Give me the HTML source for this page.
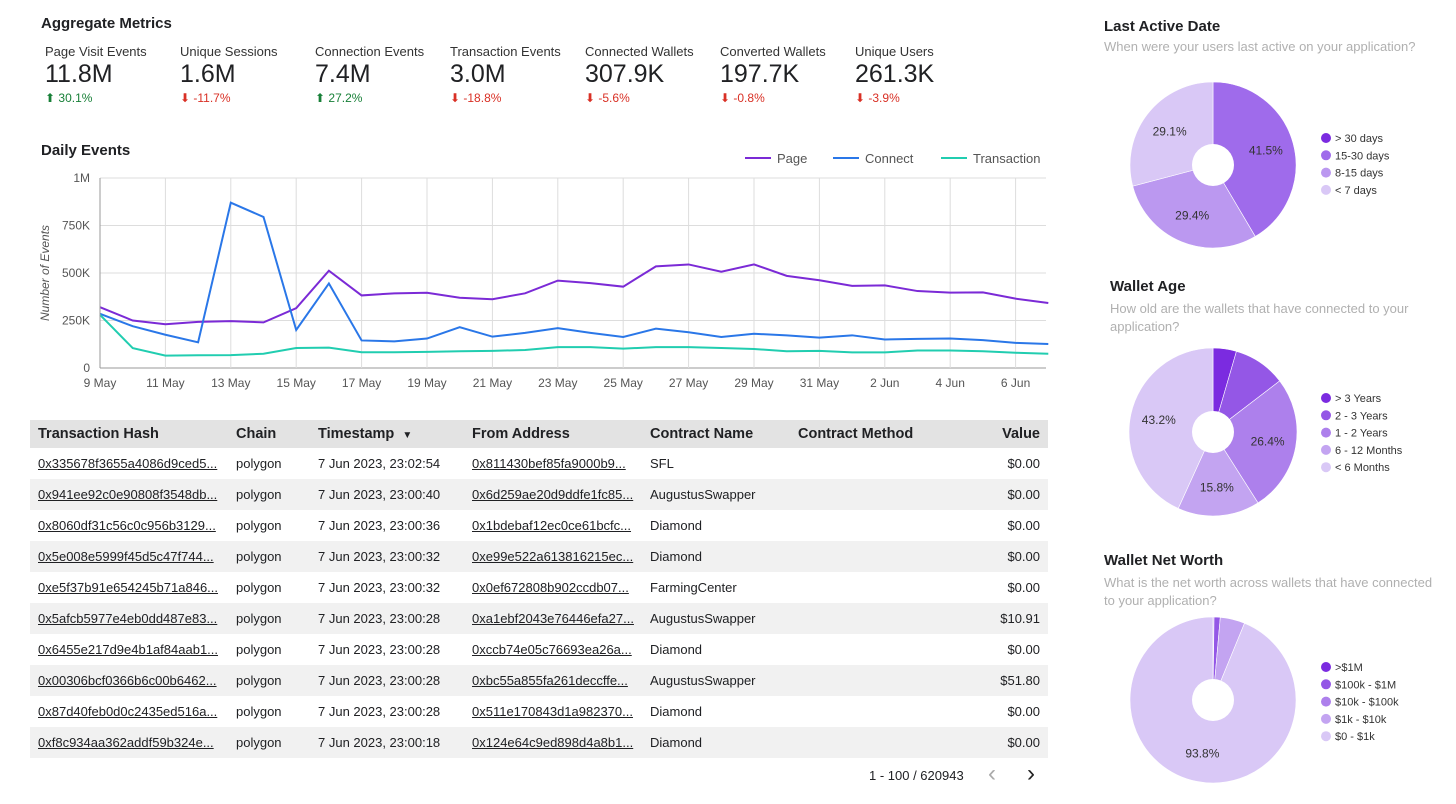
<!DOCTYPE html>
<html><head><meta charset="utf-8">
<style>
body{margin:0;width:1456px;height:804px;background:#fff;font-family:"Liberation Sans",sans-serif;color:#202124;position:relative;overflow:hidden}
.a{position:absolute}
.t{font-weight:bold;font-size:15px}
.mk{position:absolute;top:44px}
.mk .l{font-size:13px;color:#333}
.mk .v{font-size:25px;margin-top:1px}
.mk .d{font-size:12px;margin-top:2px}
.up{color:#188038}.dn{color:#d93025}
table{border-collapse:collapse;font-size:13px}
td,th{height:31px;padding:0 0 0 8px;text-align:left;white-space:nowrap}
th{background:#e3e3e3;font-size:14.5px;height:28px}
tr.s td{background:#f1f1f1}
td.u{text-decoration:underline}
.sub{font-size:13px;color:#b0b0b0;line-height:18px}
</style></head><body>
<div class="a t" style="left:41px;top:15px">Aggregate Metrics</div>
<div class="mk" style="left:45px"><div class="l">Page Visit Events</div><div class="v">11.8M</div><div class="d up">⬆ 30.1%</div></div>
<div class="mk" style="left:180px"><div class="l">Unique Sessions</div><div class="v">1.6M</div><div class="d dn">⬇ -11.7%</div></div>
<div class="mk" style="left:315px"><div class="l">Connection Events</div><div class="v">7.4M</div><div class="d up">⬆ 27.2%</div></div>
<div class="mk" style="left:450px"><div class="l">Transaction Events</div><div class="v">3.0M</div><div class="d dn">⬇ -18.8%</div></div>
<div class="mk" style="left:585px"><div class="l">Connected Wallets</div><div class="v">307.9K</div><div class="d dn">⬇ -5.6%</div></div>
<div class="mk" style="left:720px"><div class="l">Converted Wallets</div><div class="v">197.7K</div><div class="d dn">⬇ -0.8%</div></div>
<div class="mk" style="left:855px"><div class="l">Unique Users</div><div class="v">261.3K</div><div class="d dn">⬇ -3.9%</div></div>

<div class="a t" style="left:41px;top:142px">Daily Events</div>
<svg class="a" style="left:0;top:0" width="1060" height="400" id="lc"></svg>

<table class="a" style="left:30px;top:420px;width:1018px">
<tr><th>Transaction Hash</th><th>Chain</th><th>Timestamp &nbsp;<span style="font-size:10px">▼</span></th><th>From Address</th><th>Contract Name</th><th>Contract Method</th><th style="text-align:right;padding-right:8px">Value</th></tr>
<tbody id="tb"></tbody></table>
<div class="a" style="left:869px;top:768px;font-size:13px">1 - 100 / 620943</div>
<div class="a" style="left:988px;top:760px;font-size:24px;color:#aaa">‹</div>
<div class="a" style="left:1027px;top:760px;font-size:24px;color:#222">›</div>

<div class="a t" style="left:1104px;top:18px">Last Active Date</div>
<div class="a sub" style="left:1104px;top:38px">When were your users last active on your application?</div>
<div class="a t" style="left:1110px;top:278px">Wallet Age</div>
<div class="a sub" style="left:1110px;top:300px;width:320px">How old are the wallets that have connected to your application?</div>
<div class="a t" style="left:1104px;top:552px">Wallet Net Worth</div>
<div class="a sub" style="left:1104px;top:574px;width:340px">What is the net worth across wallets that have connected to your application?</div>
<svg class="a" style="left:1100px;top:0" width="356" height="804" id="pies"></svg>

<script>
const pageVals=[320,250,230,243,247,240,315,512,382,393,396,370,362,393,460,447,428,535,545,507,545,485,462,432,435,405,397,398,365,342];
const connectVals=[285,220,175,135,870,795,200,445,145,140,155,215,165,185,210,185,163,207,188,163,180,172,160,172,150,153,155,147,132,126];
const txVals=[280,105,65,67,68,75,105,107,83,83,85,88,90,95,110,110,102,110,110,105,100,88,90,82,82,92,92,88,80,75];
const xLabels=["9 May","11 May","13 May","15 May","17 May","19 May","21 May","23 May","25 May","27 May","29 May","31 May","2 Jun","4 Jun","6 Jun"];
const yTicks=[0,250,500,750,1000];
const yTickLabels=["0","250K","500K","750K","1M"];
const NS="http://www.w3.org/2000/svg";
const svg=document.getElementById('lc');
const X=i=>100+i*32.7, Y=v=>368-v*0.19;
function mk(p,tag,at){const e=document.createElementNS(NS,tag);for(const k in at)e.setAttribute(k,at[k]);p.appendChild(e);return e;}
for(let i=0;i<yTicks.length;i++){
 const g=mk(svg,'line',{x1:100,x2:1046,y1:Y(yTicks[i]),y2:Y(yTicks[i]),stroke:i?'#ddd':'#999','stroke-width':1});
 
 const t=mk(svg,'text',{x:90,y:Y(yTicks[i])+4,'text-anchor':'end','font-size':12,fill:'#555'});t.textContent=yTickLabels[i];
 
}
for(let i=0;i<xLabels.length;i++){
 const x=X(i*2);
 const g=mk(svg,'line',{x1:x,x2:x,y1:178,y2:368,stroke:'#ddd'});
 
 const t=mk(svg,'text',{x:x,y:387,'text-anchor':'middle','font-size':12,fill:'#555'});t.textContent=xLabels[i];
 
}
const yt=mk(svg,'text',{x:0,y:0,transform:'translate(49,273) rotate(-90)','text-anchor':'middle','font-size':12,'font-style':'italic',fill:'#555'});yt.textContent='Number of Events';

const series=[[pageVals,'#7b2ad6','Page'],[connectVals,'#2a77e8','Connect'],[txVals,'#21cdb0','Transaction']];
const lx=[745,833,941];
series.forEach((s,k)=>{
 const p=mk(svg,'polyline',{points:s[0].map((v,i)=>X(i)+','+Y(v)).join(' '),fill:'none',stroke:s[1],'stroke-width':2});
 
 const l=mk(svg,'line',{x1:lx[k],x2:lx[k]+26,y1:158,y2:158,stroke:s[1],'stroke-width':2});
 
 const t=mk(svg,'text',{x:lx[k]+32,y:163,'font-size':13,fill:'#555'});t.textContent=s[2];
 
});
mk(svg,'line',{x1:100,x2:100,y1:178,y2:368,stroke:'#999'});

const rows=[["0x335678f3655a4086d9ced5...","0x811430bef85fa9000b9...","SFL","$0.00","23:02:54"],
["0x941ee92c0e90808f3548db...","0x6d259ae20d9ddfe1fc85...","AugustusSwapper","$0.00","23:00:40"],
["0x8060df31c56c0c956b3129...","0x1bdebaf12ec0ce61bcfc...","Diamond","$0.00","23:00:36"],
["0x5e008e5999f45d5c47f744...","0xe99e522a613816215ec...","Diamond","$0.00","23:00:32"],
["0xe5f37b91e654245b71a846...","0x0ef672808b902ccdb07...","FarmingCenter","$0.00","23:00:32"],
["0x5afcb5977e4eb0dd487e83...","0xa1ebf2043e76446efa27...","AugustusSwapper","$10.91","23:00:28"],
["0x6455e217d9e4b1af84aab1...","0xccb74e05c76693ea26a...","Diamond","$0.00","23:00:28"],
["0x00306bcf0366b6c00b6462...","0xbc55a855fa261deccffe...","AugustusSwapper","$51.80","23:00:28"],
["0x87d40feb0d0c2435ed516a...","0x511e170843d1a982370...","Diamond","$0.00","23:00:28"],
["0xf8c934aa362addf59b324e...","0x124e64c9ed898d4a8b1...","Diamond","$0.00","23:00:18"]];
const tb=document.getElementById('tb');
rows.forEach((r,i)=>{
 const tr=document.createElement('tr');if(i%2)tr.className='s';
 
 
 tr.innerHTML=`<td class="u" style="width:190px">${r[0]}</td><td style="width:74px">polygon</td><td style="width:146px">7 Jun 2023, ${r[4]}</td><td class="u" style="width:170px">${r[1]}</td><td style="width:140px">${r[2]}</td><td></td><td style="text-align:right;padding-right:8px">${r[3]}</td>`;
 tb.appendChild(tr);
});

const pieLabels1=["> 30 days","15-30 days","8-15 days","< 7 days"];
const pieVals1=[0,41.5,29.4,29.1];
const pieLabels2=["> 3 Years","2 - 3 Years","1 - 2 Years","6 - 12 Months","< 6 Months"];
const pieVals2=[4.5,10.1,26.4,15.8,43.2];
const pieLabels3=[">$1M","$100k - $1M","$10k - $100k","$1k - $10k","$0 - $1k"];
const pieVals3=[0.2,1.2,0,4.8,93.8];
const cols5=['#7b2be0','#9457e6','#ad80ec','#c3a4f1','#d9c8f6'];
const cols4=['#7b2be0','#9f6beb','#bb98f0','#d9c8f6'];
const ps=document.getElementById('pies');
function pie(vals,labels,cols,cx,cy,r,ly,name){
 let a=0;const tot=vals.reduce((s,v)=>s+v,0);
 vals.forEach((v,i)=>{
  if(v<=0)return;
  const a0=a/tot*2*Math.PI,a1=(a+v)/tot*2*Math.PI;a+=v;
  const p=(t)=>[cx+r*Math.sin(t),cy-r*Math.cos(t)];
  const [x0,y0]=p(a0),[x1,y1]=p(a1);
  const path=mk(ps,'path',{d:`M${cx},${cy}L${x0},${y0}A${r},${r} 0 ${a1-a0>Math.PI?1:0} 1 ${x1},${y1}Z`,fill:cols[i],stroke:'#fff','stroke-width':0.6});
  
  if(v>=12){const m=(a0+a1)/2;const t=mk(ps,'text',{x:cx+r*0.66*Math.sin(m),y:cy-r*0.66*Math.cos(m)+4,'text-anchor':'middle','font-size':12,fill:'#333'});t.textContent=v.toFixed(1)+'%';
   }
 });
 mk(ps,'circle',{cx:cx,cy:cy,r:21,fill:'#fff'});
 labels.forEach((l,i)=>{
  const c=mk(ps,'circle',{cx:226,cy:ly+i*17.3,r:5,fill:cols[i]});
  
  const t=mk(ps,'text',{x:235,y:ly+i*17.3+4,'font-size':11,fill:'#333'});t.textContent=l;
  
 });
}
pie(pieVals1,pieLabels1,cols4,113,165,83,138,'last-active');
pie(pieVals2,pieLabels2,cols5,113,432,84,398,'wallet-age');
pie(pieVals3,pieLabels3,cols5,113,700,83,667,'net-worth');
</script>
</body></html>
